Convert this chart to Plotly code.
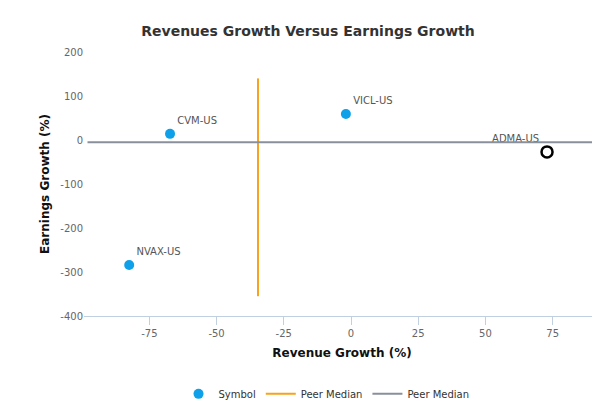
import plotly.graph_objects as go

symbols = ["CVM-US", "VICL-US", "ADMA-US", "NVAX-US"]
rev_growth = [-67.3, -1.9, 72.9, -82.5]
earn_growth = [14, 59, -27, -284]

median_rev = -34.6
median_rev_y = [140, -355]
median_earn = -5
median_earn_x = [-98, 91]

x_ticks = [-75, -50, -25, 0, 25, 50, 75]
x_tick_labels = ["-75", "-50", "-25", "0", "25", "50", "75"]
y_ticks = [200, 100, 0, -100, -200, -300, -400]
y_tick_labels = ["200", "100", "0", "-100", "-200", "-300", "-400"]

fig = go.Figure()

fig.add_trace(go.Scatter(
    x=rev_growth[:2] + rev_growth[3:], y=earn_growth[:2] + earn_growth[3:],
    mode="markers+text", text=symbols[:2] + symbols[3:], textposition="top right",
    textfont=dict(size=10, color="#555555"),
    marker=dict(size=10, color="#0ea0e8"), name="Symbol"))
fig.add_trace(go.Scatter(
    x=[rev_growth[2]], y=[earn_growth[2]], mode="markers+text", text=[symbols[2]],
    textposition="top left", textfont=dict(size=10, color="#555555"),
    marker=dict(size=11, color="white", line=dict(color="black", width=2.5)),
    showlegend=False))
fig.add_trace(go.Scatter(
    x=[median_rev, median_rev], y=median_rev_y, mode="lines",
    line=dict(color="#f7a21b", width=2), name="Peer Median"))
fig.add_trace(go.Scatter(
    x=median_earn_x, y=[median_earn, median_earn], mode="lines",
    line=dict(color="#8a8f9c", width=2), name="Peer Median"))

fig.update_layout(
    width=600, height=400, plot_bgcolor="white", paper_bgcolor="white",
    font=dict(family="DejaVu Sans", color="#666666", size=10),
    title=dict(text="<b>Revenues Growth Versus Earnings Growth</b>", x=0.5, y=0.955,
               font=dict(size=14, color="#333333")),
    margin=dict(l=76, r=8, t=44, b=92, autoexpand=False),
    legend=dict(orientation="h", x=0.47, xanchor="center", y=-0.24,
                font=dict(size=10, color="#333333"), itemclick=False),
    xaxis=dict(range=[-99.3, 92.6], tickvals=x_ticks, ticktext=x_tick_labels,
               showgrid=False, zeroline=False, automargin=False,
               showline=True, linecolor="#c0d0e0", ticks="outside", tickcolor="#c0d0e0",
               ticklen=8,
               title=dict(text="<b>Revenue Growth (%)</b>", standoff=10,
                          font=dict(size=12, color="#111111"))),
    yaxis=dict(range=[-400, 200], tickvals=y_ticks, ticktext=y_tick_labels,
               showgrid=False, zeroline=False, automargin=False,
               title=dict(text="<b>Earnings Growth (%)</b>", standoff=8,
                          font=dict(size=12, color="#111111"))),
)
fig.add_annotation(text="www.capitalcube.com", xref="paper", yref="paper", x=1.0, y=-0.33,
                   xanchor="right", yanchor="top", showarrow=False,
                   font=dict(size=9, color="#888888"))

fig.write_html("out.html")
